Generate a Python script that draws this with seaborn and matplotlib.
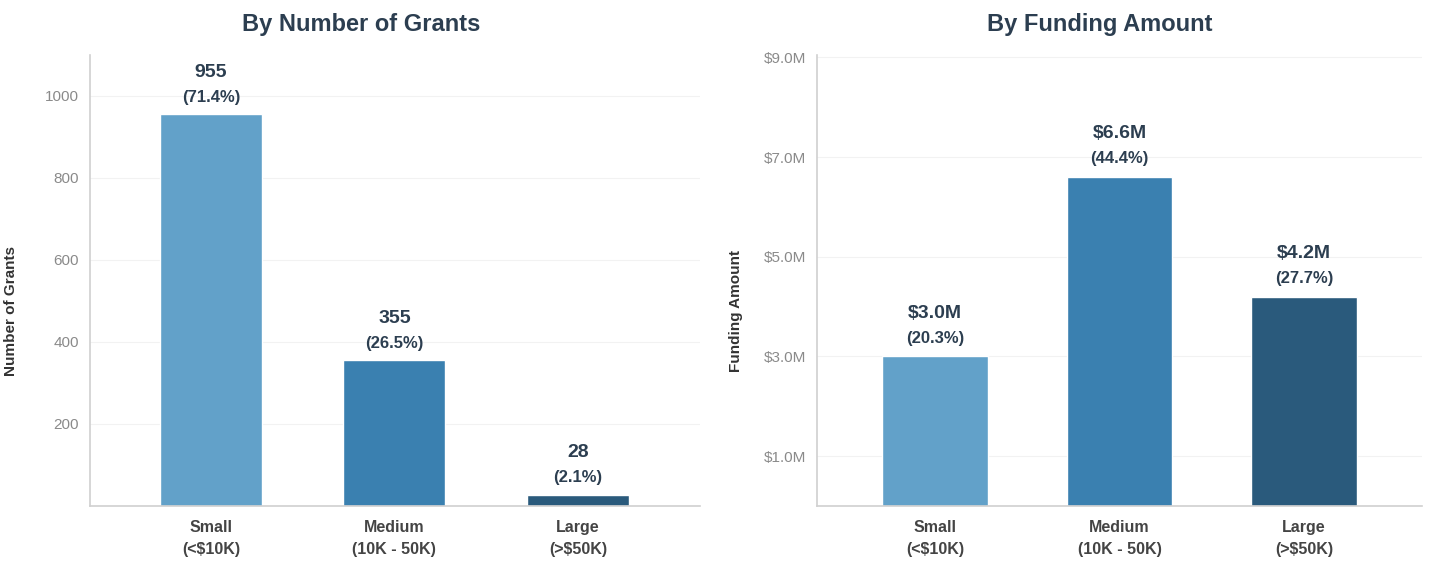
import matplotlib
matplotlib.use("Agg")
import matplotlib.pyplot as plt
import seaborn as sns
import pandas as pd
from matplotlib.ticker import FuncFormatter, FixedLocator

# Grant size buckets
categories = ["Small\n(<\\$10K)", "Medium\n(10K - 50K)", "Large\n(>\\$50K)"]
grant_counts = [955, 355, 28]
count_pct = [71.4, 26.5, 2.1]
funding_musd = [3.0, 6.6, 4.2]
funding_pct = [20.3, 44.4, 27.7]
bar_colors = ["#62a1c9", "#3a80b0", "#2a5a7c"]

count_ticks = [200, 400, 600, 800, 1000]
funding_ticks = [1.0, 3.0, 5.0, 7.0, 9.0]

sns.set_theme(style="white")
plt.rcParams["font.family"] = ["Liberation Sans", "DejaVu Sans"]

df_count = pd.DataFrame({"cat": categories, "val": grant_counts})
df_fund = pd.DataFrame({"cat": categories, "val": funding_musd})

fig = plt.figure(figsize=(14.3, 5.66), dpi=100)
ax1 = fig.add_axes([0.0629, 0.106, 0.4266, 0.797])
ax2 = fig.add_axes([0.5713, 0.106, 0.4231, 0.797])

title_color = "#2c3e50"
label_color = "#333333"
tick_color = "#8a8a8a"


def style_axes(ax, ylabel, title, label_x, title_x):
    ax.set_title(title, fontsize=17, fontweight="bold", color=title_color,
                 pad=17, x=title_x)
    ax.set_ylabel(ylabel, fontsize=11, fontweight="bold", color=label_color)
    ax.yaxis.set_label_coords(label_x, 0.433)
    ax.set_xlabel("")
    for s in ["top", "right"]:
        ax.spines[s].set_visible(False)
    for s in ["left", "bottom"]:
        ax.spines[s].set_color("#d0d0d0")
        ax.spines[s].set_linewidth(1.2)
    ax.tick_params(axis="y", labelsize=11, colors=tick_color, length=0, pad=8)
    ax.tick_params(axis="x", length=0, pad=10)
    for lbl in ax.get_xticklabels():
        lbl.set_fontsize(11.5)
        lbl.set_fontweight("bold")
        lbl.set_color("#444444")
        lbl.set_linespacing(1.6)
    ax.yaxis.grid(True, color="#f2f2f2", linewidth=0.8)
    ax.set_axisbelow(True)


# Left panel: number of grants
sns.barplot(data=df_count, x="cat", y="val", hue="cat", palette=bar_colors,
            legend=False, width=0.556, ax=ax1, saturation=1)
ax1.set_xlim(-0.659, 2.665)
ax1.set_ylim(0, 1099)
ax1.yaxis.set_major_locator(FixedLocator(count_ticks))
style_axes(ax1, "Number of Grants", "By Number of Grants", -0.118, 0.444)
for i, (v, p) in enumerate(zip(grant_counts, count_pct)):
    ax1.annotate(f"{v}", (i, v), xytext=(0, 30), textcoords="offset points",
                 ha="center", va="center", fontsize=14, fontweight="bold", color=title_color)
    ax1.annotate(f"({p}%)", (i, v), xytext=(0, 12), textcoords="offset points",
                 ha="center", va="center", fontsize=12, fontweight="bold", color=title_color)

# Right panel: funding amount
sns.barplot(data=df_fund, x="cat", y="val", hue="cat", palette=bar_colors,
            legend=False, width=0.57, ax=ax2, saturation=1)
ax2.set_xlim(-0.64, 2.639)
ax2.set_ylim(0, 9.05)
ax2.yaxis.set_major_locator(FixedLocator(funding_ticks))
ax2.yaxis.set_major_formatter(FuncFormatter(lambda y, _: f"\\${y:.1f}M"))
style_axes(ax2, "Funding Amount", "By Funding Amount", -0.122, 0.468)
for i, (v, p) in enumerate(zip(funding_musd, funding_pct)):
    ax2.annotate(f"\\${v:.1f}M", (i, v), xytext=(0, 31), textcoords="offset points",
                 ha="center", va="center", fontsize=14, fontweight="bold", color=title_color)
    ax2.annotate(f"({p}%)", (i, v), xytext=(0, 13), textcoords="offset points",
                 ha="center", va="center", fontsize=12, fontweight="bold", color=title_color)

fig.savefig("out.png", dpi=100, facecolor="white")
